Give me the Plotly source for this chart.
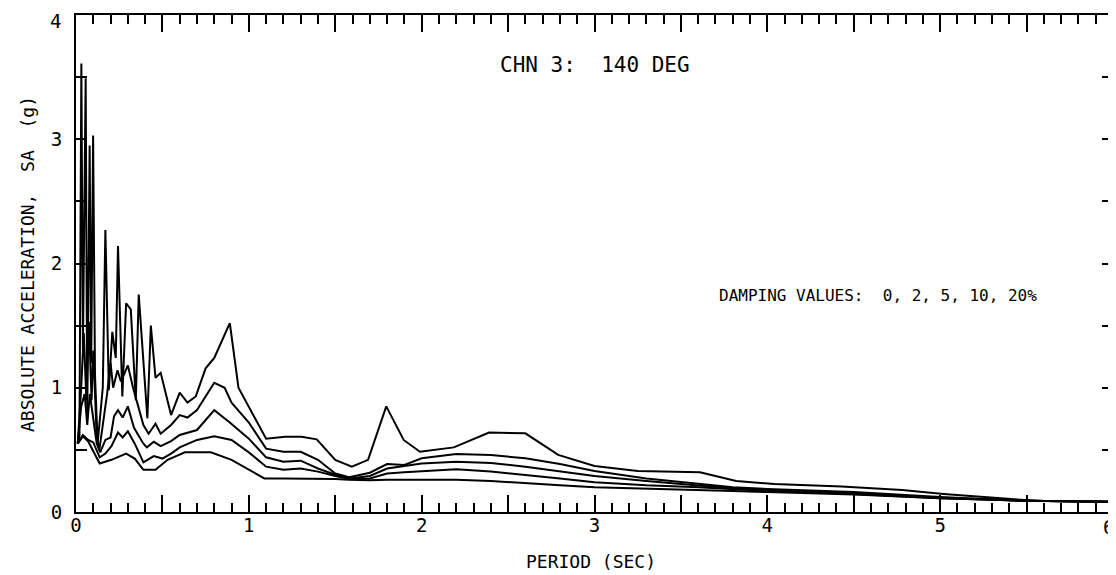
import plotly.graph_objects as go

# ---- data ----
period_0 = [0.01, 0.02, 0.031, 0.04, 0.056, 0.065, 0.079, 0.088, 0.099, 0.11, 0.125, 0.14, 0.155,
            0.17, 0.19, 0.21, 0.23, 0.243, 0.268, 0.29, 0.317, 0.346, 0.363, 0.413, 0.433, 0.46,
            0.49, 0.55, 0.6, 0.645, 0.693, 0.75, 0.8, 0.89, 0.94, 1.1, 1.21, 1.305, 1.393, 1.5,
            1.596, 1.69, 1.795, 1.896, 1.99, 2.186, 2.39, 2.6, 2.79, 3.0, 3.25, 3.61, 3.82, 4.04,
            4.43, 4.78, 5.02, 5.41, 5.6, 6.0]
sa_0 = [0.55, 0.6, 3.61, 1.3, 3.49, 0.75, 2.95, 1.2, 3.03, 1.1, 0.55, 0.75, 1.0,
        2.27, 0.98, 1.45, 1.24, 2.14, 0.93, 1.68, 1.63, 0.9, 1.75, 0.754, 1.5, 1.08,
        1.12, 0.78, 0.96, 0.88, 0.93, 1.156, 1.24, 1.52, 1.0, 0.59, 0.605, 0.605, 0.585, 0.42,
        0.365, 0.42, 0.85, 0.58, 0.485, 0.52, 0.64, 0.633, 0.46, 0.37, 0.33, 0.32, 0.25, 0.225,
        0.205, 0.177, 0.145, 0.104, 0.088, 0.082]

period_2 = [0.01, 0.03, 0.045, 0.06, 0.075, 0.09, 0.1, 0.12, 0.135, 0.16, 0.18, 0.2, 0.215, 0.24,
            0.26, 0.3, 0.33, 0.36, 0.39, 0.42, 0.46, 0.49, 0.55, 0.6, 0.645, 0.7, 0.8, 0.86, 0.9,
            1.0, 1.1, 1.2, 1.3, 1.4, 1.5, 1.58, 1.7, 1.8, 1.9, 2.0, 2.2, 2.4, 2.6, 2.8, 3.0, 3.3,
            3.6, 3.8, 4.0, 4.5, 5.0, 5.5, 6.0]
sa_2 = [0.55, 1.0, 1.44, 0.9, 1.53, 0.9, 1.3, 0.6, 0.5, 0.75, 0.95, 1.2, 1.0, 1.14,
        1.05, 1.18, 1.0, 0.85, 0.7, 0.63, 0.71, 0.63, 0.7, 0.78, 0.76, 0.82, 1.04, 1.0, 0.88,
        0.72, 0.51, 0.485, 0.485, 0.42, 0.31, 0.28, 0.316, 0.386, 0.378, 0.432, 0.467, 0.459,
        0.432, 0.386, 0.33, 0.27, 0.23, 0.2, 0.185, 0.16, 0.12, 0.09, 0.082]

period_5 = [0.01, 0.03, 0.05, 0.065, 0.08, 0.1, 0.12, 0.14, 0.17, 0.2, 0.22, 0.243, 0.27, 0.3,
            0.335, 0.36, 0.39, 0.41, 0.45, 0.49, 0.55, 0.6, 0.65, 0.7, 0.8, 0.89, 1.0, 1.1, 1.2,
            1.3, 1.4, 1.5, 1.58, 1.7, 1.8, 1.9, 2.0, 2.2, 2.4, 2.6, 2.8, 3.0, 3.3, 3.6, 3.8, 4.0,
            4.5, 5.0, 5.5, 6.0]
sa_5 = [0.55, 0.85, 0.95, 0.7, 0.95, 0.75, 0.55, 0.48, 0.58, 0.6, 0.77, 0.82, 0.76, 0.85,
        0.68, 0.62, 0.55, 0.52, 0.565, 0.53, 0.57, 0.62, 0.64, 0.66, 0.82, 0.72, 0.59, 0.44, 0.405,
        0.413, 0.35, 0.3, 0.27, 0.29, 0.35, 0.37, 0.39, 0.405, 0.395, 0.365, 0.33, 0.29, 0.25,
        0.215, 0.19, 0.175, 0.15, 0.115, 0.09, 0.082]

period_10 = [0.01, 0.04, 0.07, 0.1, 0.137, 0.17, 0.205, 0.243, 0.27, 0.3, 0.34, 0.39, 0.45, 0.5,
             0.55, 0.6, 0.7, 0.8, 0.9, 1.0, 1.1, 1.2, 1.3, 1.4, 1.5, 1.58, 1.7, 1.8, 1.9, 2.0,
             2.2, 2.4, 2.6, 2.8, 3.0, 3.3, 3.6, 3.8, 4.0, 4.5, 5.0, 5.5, 6.0]
sa_10 = [0.55, 0.62, 0.58, 0.56, 0.44, 0.47, 0.53, 0.64, 0.6, 0.65, 0.55, 0.4, 0.45, 0.43,
         0.47, 0.52, 0.58, 0.61, 0.58, 0.48, 0.365, 0.34, 0.35, 0.325, 0.29, 0.265, 0.27, 0.31,
         0.32, 0.33, 0.344, 0.325, 0.3, 0.27, 0.24, 0.215, 0.2, 0.185, 0.17, 0.145, 0.11, 0.09,
         0.082]

period_20 = [0.01, 0.04, 0.07, 0.137, 0.205, 0.29, 0.34, 0.39, 0.46, 0.53, 0.63, 0.78, 0.9, 1.0,
             1.09, 1.2, 1.3, 1.4, 1.5, 1.58, 1.7, 1.8, 1.9, 2.0, 2.2, 2.4, 2.6, 2.8, 3.0, 3.3,
             3.6, 3.8, 4.0, 4.5, 5.0, 5.5, 6.0]
sa_20 = [0.55, 0.61, 0.57, 0.39, 0.42, 0.47, 0.43, 0.34, 0.34, 0.42, 0.48, 0.48, 0.42, 0.34,
         0.27, 0.27, 0.27, 0.27, 0.265, 0.26, 0.255, 0.26, 0.26, 0.26, 0.26, 0.25, 0.23, 0.215,
         0.2, 0.19, 0.18, 0.17, 0.16, 0.14, 0.11, 0.09, 0.082]

x_tick_vals = [0, 0.5, 1, 1.5, 2, 2.5, 3, 3.5, 4, 4.5, 5, 5.5, 6]
x_tick_text = ["0", "", "1", "", "2", "", "3", "", "4", "", "5", "", ""]
y_tick_vals = [0, 0.5, 1, 1.5, 2, 2.5, 3, 3.5, 4]
y_tick_text = ["0", "", "1", "", "2", "", "3", "", ""]
x_edge_label = "6"   # last x label, drawn at the right edge
y_edge_label = "4"   # top y label, drawn at the top edge

title_text = "CHN 3:  140 DEG"
damping_text = "DAMPING VALUES:  0, 2, 5, 10, 20%"
x_title = "PERIOD (SEC)"
y_title = "ABSOLUTE ACCELERATION,  SA  (g)"

FONT = "DejaVu Sans Mono"

fig = go.Figure()
for px_, sa_ in [(period_0, sa_0), (period_2, sa_2), (period_5, sa_5),
                 (period_10, sa_10), (period_20, sa_20)]:
    fig.add_trace(go.Scatter(x=px_, y=sa_, mode="lines",
                             line=dict(color="black", width=2), showlegend=False,
                             hoverinfo="skip", cliponaxis=False))

# the page body adds an 8 px offset, so the figure is 8 px smaller and shifted
fig.update_layout(
    width=1108, height=567,
    margin=dict(l=68, r=3, t=7, b=63, autoexpand=False),
    paper_bgcolor="white", plot_bgcolor="white",
    font=dict(family=FONT, color="black"),
)
fig.update_xaxes(
    range=[0, 6], tickmode="array", tickvals=x_tick_vals, ticktext=x_tick_text,
    ticks="inside", ticklen=17, tickwidth=2, tickcolor="black",
    minor=dict(tickmode="linear", tick0=0, dtick=0.1, ticks="inside", ticklen=9,
               tickwidth=1.5, tickcolor="black", showgrid=False),
    showline=True, linewidth=2, linecolor="black", mirror="ticks",
    showgrid=False, zeroline=False, tickfont=dict(family=FONT, size=19),
    automargin=False, ticklabelstandoff=-5, ticklabeloverflow="allow",
)
fig.update_yaxes(
    range=[0, 4], tickmode="array", tickvals=y_tick_vals, ticktext=y_tick_text,
    ticks="inside", ticklen=11, tickwidth=2, tickcolor="black",
    showline=True, linewidth=2, linecolor="black", mirror="ticks",
    showgrid=False, zeroline=False, tickfont=dict(family=FONT, size=19),
    ticklabelstandoff=8, automargin=False, ticklabeloverflow="allow",
)
fig.add_annotation(x=x_tick_vals[-1], y=0, xref="x", yref="paper", text=x_edge_label,
                   showarrow=False, xanchor="right", yanchor="middle", xshift=3, yshift=-15,
                   font=dict(family=FONT, size=19, color="black"))
fig.add_annotation(x=0, y=y_tick_vals[-1], xref="paper", yref="y", text=y_edge_label,
                   showarrow=False, xanchor="right", yanchor="top", xshift=-13, yshift=7,
                   font=dict(family=FONT, size=19, color="black"))
fig.add_annotation(x=3.0, y=3.6, xref="x", yref="y", text=title_text, showarrow=False,
                   xanchor="center", yanchor="middle",
                   font=dict(family=FONT, size=21, color="black"))
fig.add_annotation(x=4.64, y=1.74, xref="x", yref="y", text=damping_text, showarrow=False,
                   xanchor="center", yanchor="middle",
                   font=dict(family=FONT, size=16, color="black"))
fig.add_annotation(x=2.98, y=-0.1006, xref="x", yref="paper", text=x_title, showarrow=False,
                   xanchor="center", yanchor="middle",
                   font=dict(family=FONT, size=18, color="black"))
fig.add_annotation(x=-0.0468, y=0.5, xref="paper", yref="paper", text=y_title,
                   showarrow=False, textangle=-90, xanchor="center", yanchor="middle",
                   font=dict(family=FONT, size=18, color="black"))

fig.write_html("out.html")
